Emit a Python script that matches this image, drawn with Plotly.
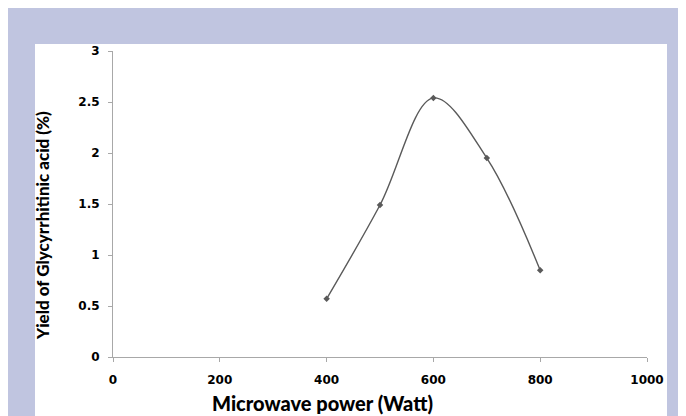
import plotly.graph_objects as go

power = [400, 500, 600, 700, 800]
yield_pct = [0.57, 1.49, 2.54, 1.95, 0.85]
x_ticks = [0, 200, 400, 600, 800, 1000]
y_ticks = [0, 0.5, 1, 1.5, 2, 2.5, 3]
y_tick_text = ["0", "0.5", "1", "1.5", "2", "2.5", "3"]

# the page has an 8px body margin; figure is placed at (8, 8)
OFF = 8
W, H = 686 - OFF, 416 - OFF
L, R, T, B = 113 - OFF, 647 - OFF, 51 - OFF, 357 - OFF

def px_x(p):
    return (p - OFF - L) / (R - L)

def px_y(p):
    return (B - (p - OFF)) / (B - T)

fig = go.Figure()
fig.add_trace(go.Scatter(
    x=power, y=yield_pct, mode="lines+markers",
    line=dict(color="#5a5a5a", width=1.4, shape="spline", smoothing=1.0),
    marker=dict(symbol="diamond", size=5, color="#5a5a5a"),
    showlegend=False,
))

lav = "#C0C5E0"
shapes = [
    dict(type="rect", xref="paper", yref="paper", layer="below",
         x0=px_x(35), x1=px_x(667), y0=px_y(420), y1=px_y(44),
         fillcolor="white", line=dict(width=0)),
]

tick_fam = "DejaVu Sans, sans-serif"
title_fam = "Lato, Open Sans, sans-serif"
axis_common = dict(showgrid=False, zeroline=False, showline=True,
                   linecolor="#A8A8A8", linewidth=1, ticks="outside",
                   ticklen=4, tickcolor="#A8A8A8")
fig.update_layout(
    width=W, height=H,
    margin=dict(l=L, r=W - R, t=T, b=H - B),
    paper_bgcolor=lav, plot_bgcolor="rgba(0,0,0,0)",
    shapes=shapes,
    xaxis=dict(range=[0, 1000], tickvals=x_ticks, ticklabelstandoff=8,
               tickfont=dict(family=tick_fam, size=12, color="black", weight="bold"),
               **axis_common),
    yaxis=dict(range=[0, 3], tickvals=y_ticks, ticktext=y_tick_text, ticklabelstandoff=6,
               tickfont=dict(family=tick_fam, size=12, color="black", weight="bold"),
               **axis_common),
    annotations=[
        dict(text="Microwave power (Watt)", xref="paper", yref="paper",
             x=px_x(322), y=px_y(403), xanchor="center", yanchor="middle",
             showarrow=False, font=dict(family=title_fam, size=20, color="black", weight=900)),
        dict(text="Yield of Glycyrrhitinic acid (%)", xref="paper", yref="paper",
             x=px_x(42), y=px_y(226), xanchor="center", yanchor="middle",
             textangle=-90, showarrow=False,
             font=dict(family=title_fam, size=17, color="black", weight=900)),
    ],
)

fig.write_html("out.html")
